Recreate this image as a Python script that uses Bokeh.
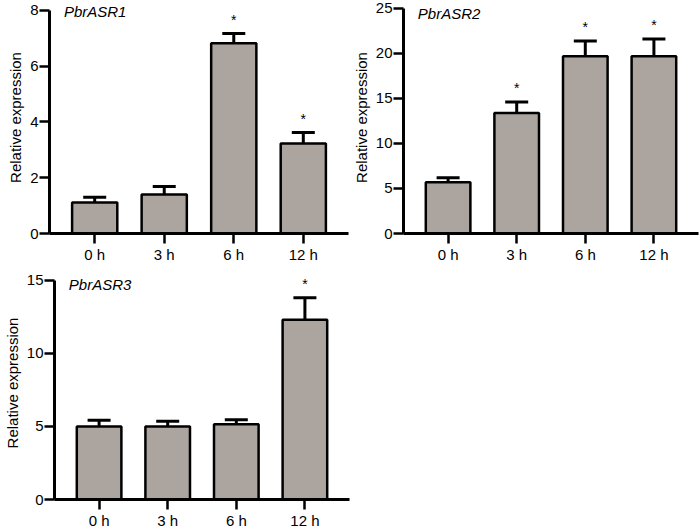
from bokeh.plotting import figure
from bokeh.models import Range1d, FactorRange, Whisker, TeeHead, Label, ColumnDataSource, FixedTicker
from bokeh.layouts import column, row
from bokeh.embed import file_html
from bokeh.resources import INLINE

categories = ["0 h", "3 h", "6 h", "12 h"]

genes = ["PbrASR1", "PbrASR2", "PbrASR3"]
values1 = [1.11, 1.40, 6.82, 3.23]
errors1 = [1.30, 1.69, 7.17, 3.62]
stars1 = ["", "", "*", "*"]
values2 = [5.7, 13.4, 19.7, 19.7]
errors2 = [6.2, 14.6, 21.4, 21.6]
stars2 = ["", "*", "*", "*"]
values3 = [5.0, 5.0, 5.15, 12.3]
errors3 = [5.43, 5.36, 5.45, 13.8]
stars3 = ["", "", "", "*"]

yticks1 = [0, 2, 4, 6, 8]
yticks2 = [0, 5, 10, 15, 20, 25]
yticks3 = [0, 5, 10, 15]

FONT = "Liberation Sans"
BAR = "#ACA59F"


def panel(gene, vals, errs, stars, yticks, headroom, title_dy, width, height, bl, br, bt, bb):
    top = yticks[-1]
    p = figure(width=width, height=height, output_backend="svg", toolbar_location=None,
               x_range=FactorRange(factors=categories, range_padding=0.15, range_padding_units="absolute"),
               y_range=Range1d(0, top * headroom),
               min_border_left=bl, min_border_right=br, min_border_top=bt, min_border_bottom=bb)
    p.outline_line_color = None
    p.xgrid.grid_line_color = None
    p.ygrid.grid_line_color = None
    p.background_fill_color = "white"
    src = ColumnDataSource(dict(cat=categories, val=vals, err=errs, star=stars))
    w = Whisker(base="cat", lower="val", upper="err", source=src, dimension="height",
                line_color="black", line_width=3,
                upper_head=TeeHead(size=23, line_width=3, line_color="black"), lower_head=None)
    p.vbar(x="cat", top="val", bottom=0, width=0.65, source=src,
           fill_color=BAR, line_color="black", line_width=2.5)
    p.add_layout(w)
    p.text(x="cat", y="err", text="star", source=src, text_align="center", text_baseline="bottom",
           y_offset=-6, text_font_size="14px", text_color="black")
    lab = Label(x=0, y=top, text=gene, text_font_style="italic", text_font_size="15px",
                text_baseline="middle", x_offset=4, y_offset=title_dy, text_color="black")
    lab.text_font = FONT
    p.add_layout(lab)
    p.yaxis.ticker = FixedTicker(ticks=yticks)
    p.yaxis.bounds = (0, top)
    p.yaxis.axis_label = "Relative expression"
    for ax in (p.xaxis[0], p.yaxis[0]):
        ax.axis_line_width = 3
        ax.axis_line_color = "black"
        ax.major_tick_line_width = 2.5
        ax.major_tick_line_color = "black"
        ax.major_tick_in = 0
        ax.major_tick_out = 10
        ax.minor_tick_line_color = None
        ax.major_label_text_font = FONT
        ax.major_label_text_font_size = "15px"
        ax.major_label_text_color = "black"
        ax.major_label_standoff = 2
        ax.axis_label_text_font = FONT
        ax.axis_label_text_font_size = "15px"
        ax.axis_label_text_font_style = "normal"
        ax.axis_label_text_color = "black"
    p.yaxis.axis_label_standoff = 3
    p.yaxis.major_label_standoff = 1
    return p


p1 = panel(genes[0], values1, errors1, stars1, yticks1, 1.040, -1, 349, 265, 49, 1, 1, 31)
p2 = panel(genes[1], values2, errors2, stars2, yticks2, 1.031, -5, 350, 265, 46, 1, 1, 31)
p3 = panel(genes[2], values3, errors3, stars3, yticks3, 1.063, -4, 350, 266, 49, 1, 1, 29)

layout = column(row(p1, p2), p3)
open("out.html", "w").write(file_html(layout, INLINE))
